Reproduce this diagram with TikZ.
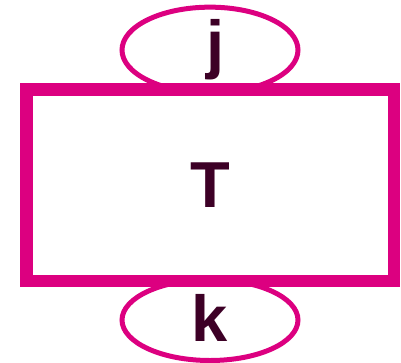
\documentclass[tikz,border=0pt]{standalone}
\usepackage{fontspec}
\setmainfont{Liberation Sans}
\definecolor{tensor}{HTML}{DC0080}
\definecolor{letter}{HTML}{3D0026}
\usetikzlibrary{shapes.geometric}

\begin{document}
\begin{tikzpicture}[x=1pt,y=-1pt,
    leg/.style={draw=tensor,line width=5pt,ellipse,inner sep=0pt,minimum width=176pt,minimum height=81pt,
      text=letter,font=\fontsize{65}{70}\selectfont\bfseries},
    box/.style={draw=tensor,line width=12.5pt,inner sep=0pt,minimum width=367.5pt,minimum height=191.5pt,
      text=letter,font=\fontsize{65}{70}\selectfont\bfseries}]
  \useasboundingbox (0,0) rectangle (401,362);
  \node[leg] (legj) at (210,50) {\hspace*{12pt}j};
  \node[leg] (legk) at (210,320) {\raisebox{5pt}{k}};
  \node[box] (tens) at (210.25,185.25) {T};
\end{tikzpicture}
\end{document}
